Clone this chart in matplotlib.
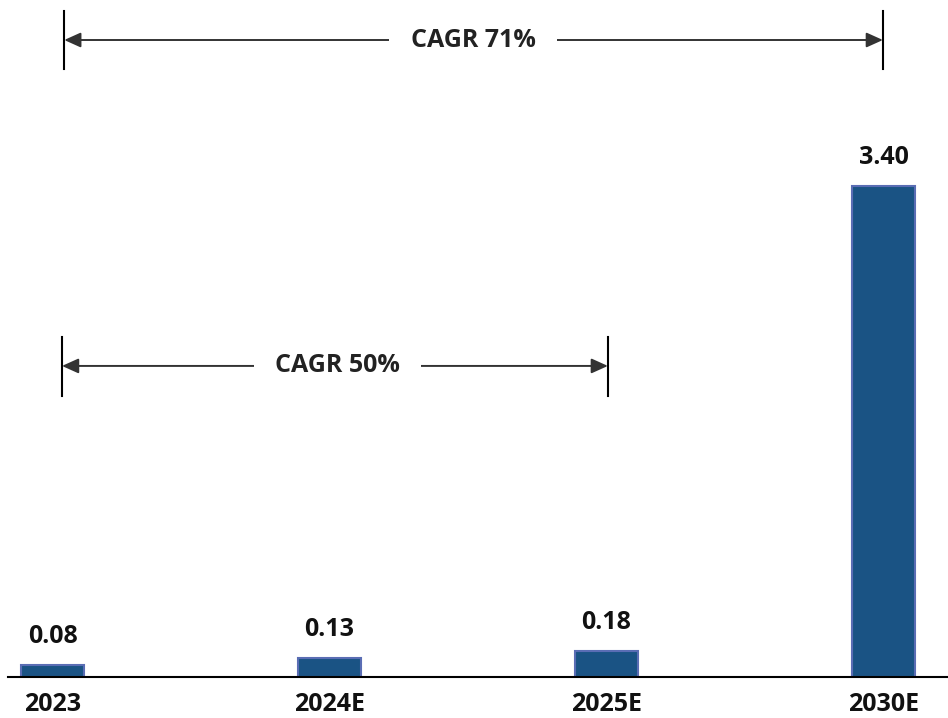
import matplotlib
matplotlib.use("Agg")
import matplotlib.pyplot as plt

# 数据
years = ["2023", "2024E", "2025E", "2030E"]
values = [0.08, 0.13, 0.18, 3.40]
value_labels = ["0.08", "0.13", "0.18", "3.40"]
cagr_labels = ["CAGR 71%", "CAGR 50%"]

plt.rcParams['font.family'] = ['Open Sans', 'DejaVu Sans']

fig = plt.figure(figsize=(9.48, 7.18), dpi=100)
ax = fig.add_axes([8 / 948, 41 / 718, 940 / 948, 677 / 718])

x = list(range(len(years)))
ax.bar(x, values, width=0.225, color='#1A5384', edgecolor='#5A6DB4', linewidth=1.5)

# 数值标签
for i, (v, lab) in enumerate(zip(values, value_labels)):
    ax.annotate(lab, xy=(i, v), xytext=(0, 22), textcoords='offset pixels',
                ha='center', va='baseline', fontsize=18, fontweight='bold', color='#111111')

# 年份标签（放在底线下方）
for i, yr in enumerate(years):
    ax.annotate(yr, xy=(i, 0), xytext=(0, -34), textcoords='offset pixels',
                ha='center', va='baseline', fontsize=18, fontweight='bold', color='#111111',
                annotation_clip=False)

ax.set_xlim(-0.161, 3.233)
ax.set_ylim(0, 4.688)
ax.set_xticks([])
ax.set_yticks([])
for s in ['top', 'right', 'left']:
    ax.spines[s].set_visible(False)
ax.spines['bottom'].set_linewidth(1.5)
ax.spines['bottom'].set_color('black')


def cagr(x0, x1, y, y_lo, y_hi, xt, text):
    ax.annotate('', xy=(x1, y), xytext=(x0, y),
                arrowprops=dict(arrowstyle='<|-|>,head_length=1.0,head_width=0.45',
                                color='#333333', lw=1.4, shrinkA=0, shrinkB=0))
    ax.plot([x0, x0], [y_lo, y_hi], color='black', lw=1.5)
    ax.plot([x1, x1], [y_lo, y_hi], color='black', lw=1.5)
    ax.text(xt, y, text, ha='center', va='center', fontsize=18, fontweight='bold',
            color='#222222', bbox=dict(boxstyle='square,pad=0.85', fc='white', ec='none'))


cagr(0.042, 2.998, 4.411, 4.21, 4.61, 1.518, cagr_labels[0])
cagr(0.034, 2.005, 2.154, 1.946, 2.355, 1.029, cagr_labels[1])

fig.savefig("out.png", dpi=100)
